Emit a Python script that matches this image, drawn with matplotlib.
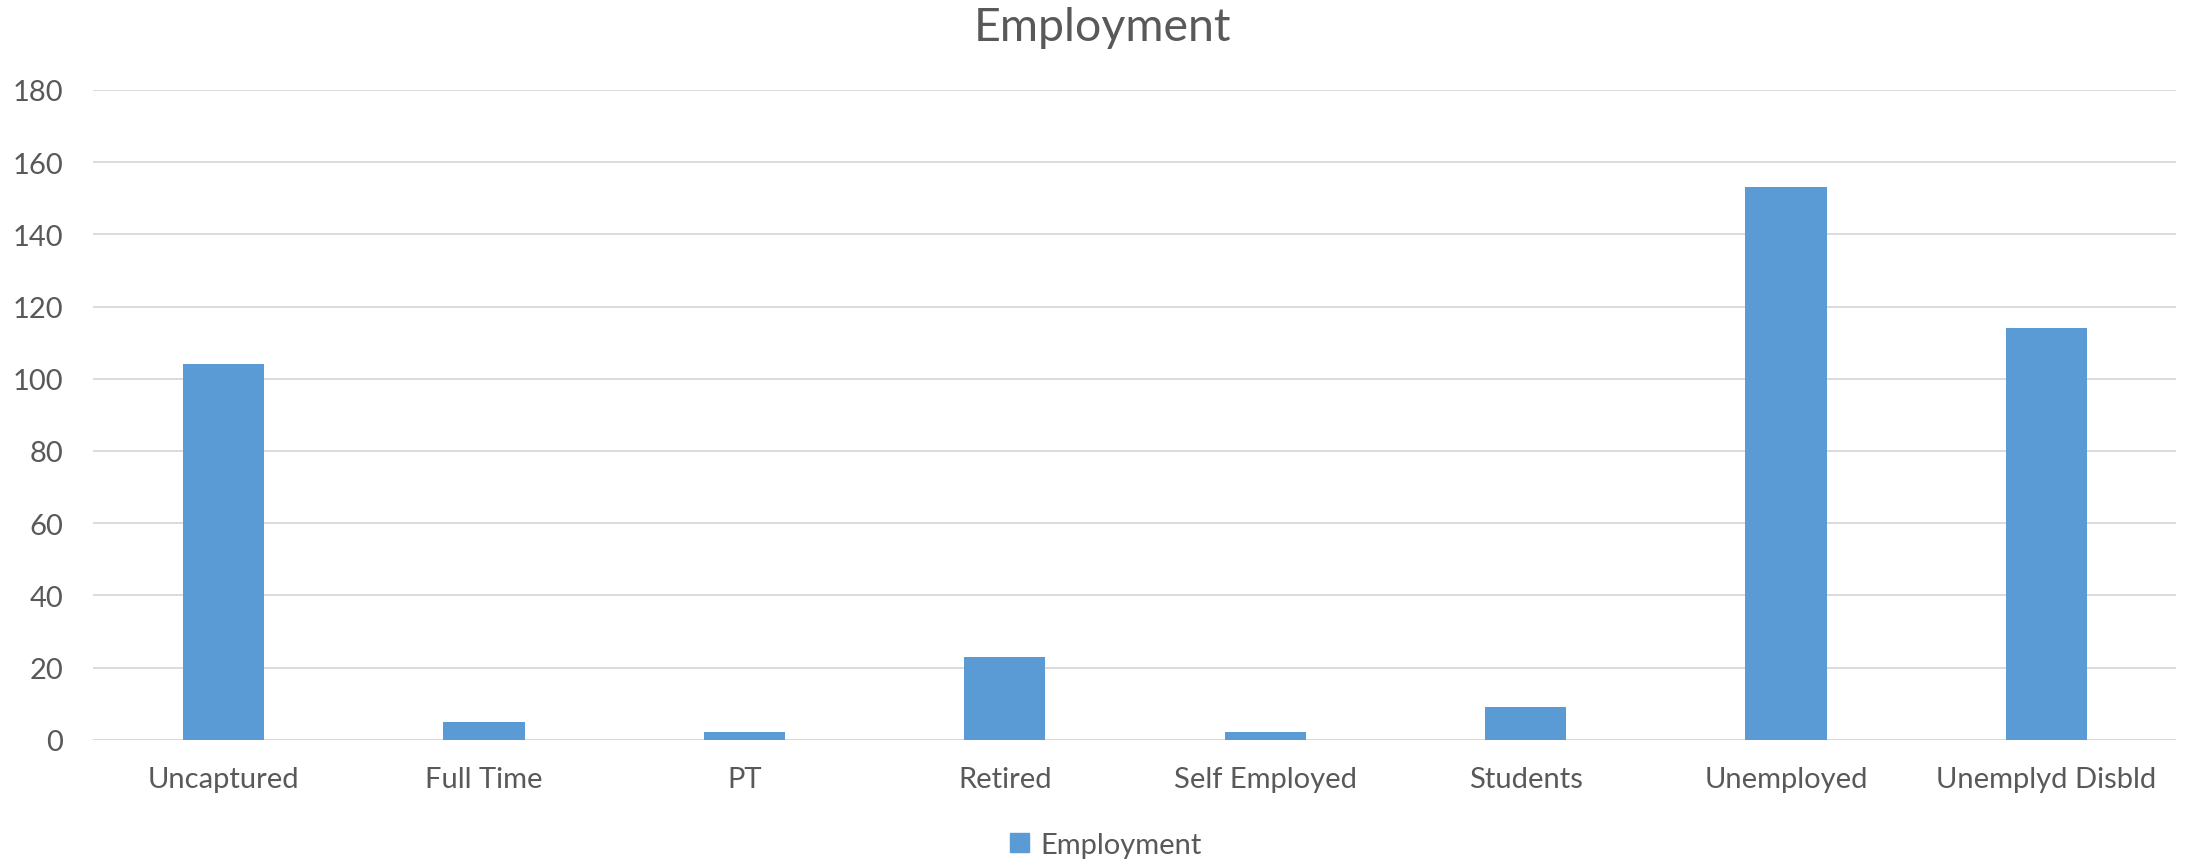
import matplotlib
matplotlib.use("Agg")
import matplotlib.pyplot as plt
from matplotlib.patches import Patch

categories = ["Uncaptured", "Full Time", "PT", "Retired", "Self Employed",
              "Students", "Unemployed", "Unemplyd Disbld"]
values = [104, 5, 2, 23, 2, 9, 153, 114]
yticks = [0, 20, 40, 60, 80, 100, 120, 140, 160, 180]

BAR = "#5B9BD5"
TXT = "#595959"
GRID = "#D9D9D9"

plt.rcParams['font.family'] = ['Lato', 'DejaVu Sans']

fig = plt.figure(figsize=(21.88, 8.62), dpi=100)
ax = fig.add_axes([0.04273, 0.1407, 0.952, 0.7538])

x = list(range(len(categories)))
ax.bar(x, values, width=0.312, color=BAR, zorder=3)
ax.set_xlim(-0.5, len(categories) - 0.5)
ax.set_ylim(0, 180)
ax.set_yticks(yticks)
ax.set_xticks(x)
ax.set_xticklabels(categories)
ax.grid(axis='y', color=GRID, linewidth=1.3, zorder=0)
for s in ax.spines.values():
    s.set_visible(False)
ax.axhline(0, color=GRID, linewidth=1.3, zorder=1)
ax.tick_params(axis='both', length=0, labelsize=21, labelcolor=TXT)
ax.tick_params(axis='x', pad=19)
ax.tick_params(axis='y', pad=22)

fig.text(0.5038, 0.967, "Employment", ha='center', va='center', fontsize=33.5, color=TXT)

leg = fig.legend(handles=[Patch(color=BAR, label="Employment")], loc='center',
                 bbox_to_anchor=(0.5055, 0.019), frameon=False, fontsize=21,
                 handlelength=0.65, handleheight=0.65, handletextpad=0.4)
for t in leg.get_texts():
    t.set_color(TXT)

fig.savefig("out.png", dpi=100, facecolor="white")
